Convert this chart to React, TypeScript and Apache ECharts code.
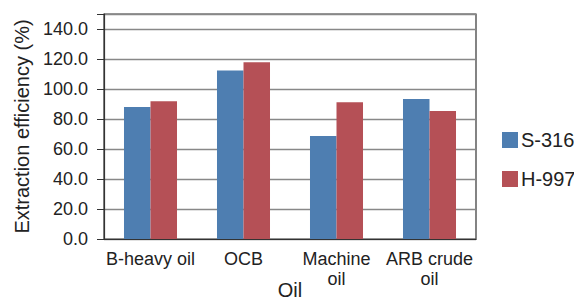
import React, { useEffect, useRef } from "react";
import * as echarts from "echarts";

const categories = ["B-heavy oil", "OCB", "Machine\noil", "ARB crude\noil"];
const s316 = [88.0, 112.4, 68.7, 93.3];
const h997 = [91.8, 117.8, 91.1, 85.3];

const FONT = "Liberation Sans, Arial, Helvetica, sans-serif";

export default function App() {
  const ref = useRef<HTMLDivElement>(null);
  useEffect(() => {
    if (!ref.current) return;
    const chart = echarts.init(ref.current, undefined, { renderer: "svg" });
    chart.setOption({
      animation: false,
      textStyle: { fontFamily: FONT },
      grid: {
        left: 104,
        right: 98,
        top: 14,
        bottom: 63,
        show: true,
        borderColor: "#333",
        borderWidth: 1.2,
        containLabel: false,
        outerBoundsMode: "none",
      },
      legend: {
        orient: "vertical",
        left: 497,
        top: 125,
        itemWidth: 16,
        itemHeight: 16,
        itemGap: 19,
        icon: "rect",
        textStyle: { fontSize: 20, lineHeight: 20, color: "#222", fontFamily: FONT, padding: [0, 0, 0, -2] },
        data: ["S-316", "H-997"],
      },
      xAxis: {
        type: "category",
        data: categories,
        name: "Oil",
        nameLocation: "middle",
        nameGap: 41,
        nameMoveOverlap: false,
        nameTextStyle: { fontSize: 20, lineHeight: 20, color: "#222" },
        axisLine: { lineStyle: { color: "#333", width: 1.2 } },
        axisTick: { show: false },
        axisLabel: { fontSize: 18, color: "#222", margin: 10, lineHeight: 20, interval: 0 },
      },
      yAxis: {
        type: "value",
        min: 0,
        max: 150,
        interval: 20,
        name: "Extraction efficiency (%)",
        nameLocation: "middle",
        nameGap: 72,
        nameMoveOverlap: false,
        nameTextStyle: { fontSize: 20, color: "#222" },
        axisLine: { show: true, lineStyle: { color: "#333", width: 1.2 } },
        axisTick: { show: true, length: 7, lineStyle: { color: "#333" } },
        axisLabel: {
          fontSize: 18,
          color: "#222",
          margin: 16,
          formatter: (v: number) => (v > 140 ? "" : v.toFixed(1)),
        },
        splitLine: { show: true, lineStyle: { color: "#888", width: 1.3 } },
      },
      series: [
        {
          name: "S-316",
          type: "bar",
          data: s316,
          barGap: "0%",
          barCategoryGap: "43%",
          itemStyle: { color: "#4e7eb1" },
        },
        {
          name: "H-997",
          type: "bar",
          data: h997,
          itemStyle: { color: "#b55056" },
        },
      ],
    });
    return () => chart.dispose();
  }, []);
  return <div ref={ref} style={{ width: 574, height: 302, position: "absolute", left: 0, top: 0 }} />;
}
